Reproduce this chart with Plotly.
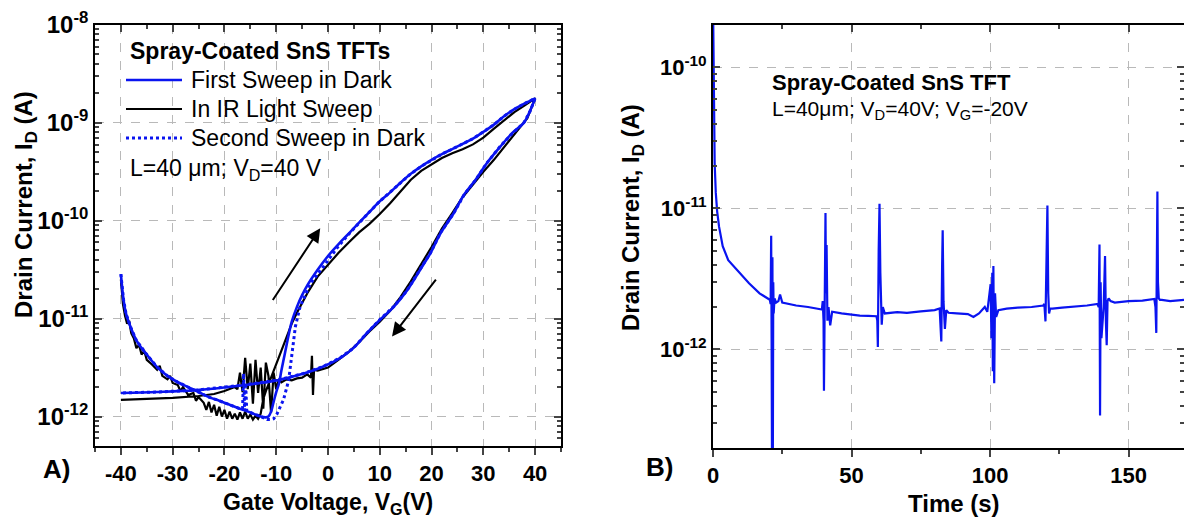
import plotly.graph_objects as go
import math

W, H = 1184, 525
FONT = "Liberation Sans, Arial, sans-serif"

# ---------------- Panel A data (Gate voltage V, drain current A) ----------------
fwd1_v = [-40, -39.5, -39, -38, -37, -36, -35, -33, -31, -29, -27, -25, -23, -21, -19, -17, -15, -13, -12,
          -11.5, -11, -10.5, -10, -9.5, -9, -8.5, -8, -7.5, -7, -6, -5, -4, -2, 0, 2, 4, 6, 8, 10, 12, 14,
          16, 18, 20, 22, 24, 26, 28, 30, 32, 34, 36, 38, 40]
fwd1_i = [2.85e-11, 1.58e-11, 1.12e-11, 7.9e-12, 6.0e-12, 5.0e-12, 4.3e-12, 3.2e-12, 2.6e-12, 2.24e-12,
          2.0e-12, 1.78e-12, 1.58e-12, 1.45e-12, 1.32e-12, 1.2e-12, 1.1e-12, 1.0e-12, 0.98e-12,
          1.0e-12, 1.12e-12, 1.41e-12, 1.78e-12, 2.14e-12, 2.95e-12, 3.98e-12, 5.37e-12, 7.24e-12,
          9.3e-12, 1.32e-11, 1.74e-11, 2.19e-11, 3.16e-11, 4.37e-11, 5.75e-11, 7.4e-11, 9.55e-11,
          1.23e-10, 1.58e-10, 1.95e-10, 2.45e-10, 3.02e-10, 3.6e-10, 4.2e-10, 4.8e-10, 5.4e-10,
          6.1e-10, 6.9e-10, 8.1e-10, 9.55e-10, 1.17e-9, 1.38e-9, 1.58e-9, 1.78e-9]
rev1_v = [40, 39, 37.8, 35.6, 33.3, 30.7, 28.5, 26.3, 24.3, 21.7, 19.8, 17.8, 15.3, 12.7, 10.1, 7.5, 4.9,
          2.4, -0.9, -4.7, -9.9, -16.3, -25.4, -33, -40]
rev1_i = [1.78e-9, 1.32e-9, 1.0e-9, 7.9e-10, 5.75e-10, 3.9e-10, 2.63e-10, 1.86e-10, 1.2e-10, 7.4e-11,
          4.68e-11, 3.16e-11, 1.95e-11, 1.32e-11, 9.8e-12, 7.1e-12, 5.0e-12, 3.98e-12, 3.24e-12,
          2.75e-12, 2.34e-12, 2.09e-12, 1.86e-12, 1.78e-12, 1.74e-12]

fwd2_v = [-40, -39.5, -39, -38, -37, -36, -35, -33, -31, -29, -27, -25, -23, -21, -19, -17, -16.5, -16.3,
          -16.1, -15.9, -15.7, -15, -13, -11.8, -11, -10.5, -9.9, -8.6, -7.6, -7.0, -6.3, -5.4, -3.4, -0.9,
          2, 4, 6, 8, 10, 12, 14, 16, 18, 20, 22, 24, 26, 28, 30, 32, 34, 36, 38, 40]
fwd2_i = [2.85e-11, 1.58e-11, 1.12e-11, 7.9e-12, 6.0e-12, 5.0e-12, 4.3e-12, 3.2e-12, 2.6e-12, 2.24e-12,
          2.0e-12, 1.78e-12, 1.58e-12, 1.45e-12, 1.32e-12, 1.2e-12, 1.2e-12, 2.75e-12, 1.15e-12, 2.2e-12,
          1.15e-12, 1.1e-12, 1.0e-12, 0.93e-12, 0.93e-12, 0.95e-12, 1.05e-12, 1.48e-12, 2.34e-12,
          4.47e-12, 8.3e-12, 1.32e-11, 2.29e-11, 3.39e-11, 5.5e-11, 7.3e-11, 9.55e-11, 1.23e-10,
          1.58e-10, 1.95e-10, 2.45e-10, 3.02e-10, 3.6e-10, 4.2e-10, 4.8e-10, 5.4e-10, 6.1e-10,
          6.9e-10, 8.1e-10, 9.55e-10, 1.17e-9, 1.38e-9, 1.58e-9, 1.78e-9]
rev2_v = [40, 39, 37.8, 35.6, 33.3, 30.7, 28.5, 26.3, 24.3, 21.7, 19.8, 17.8, 15.3, 12.7, 10.1, 7.5, 4.9,
          2.4, -0.9, -4.7, -9.9, -16.3, -25.4, -33, -40]
rev2_i = [1.78e-9, 1.3e-9, 1.0e-9, 7.8e-10, 5.8e-10, 3.9e-10, 2.6e-10, 1.85e-10, 1.2e-10, 7.5e-11,
          4.7e-11, 3.2e-11, 1.95e-11, 1.33e-11, 9.9e-12, 7.1e-12, 5.0e-12, 4.0e-12, 3.25e-12,
          2.75e-12, 2.35e-12, 2.1e-12, 1.86e-12, 1.78e-12, 1.74e-12]

ir_fwd_v = [-40, -39.6, -39.2, -38.8, -38.4, -38, -37.5, -37, -36.5, -36, -35.5, -35, -34, -33, -32.5, -32,
            -31, -30.5, -30, -29, -28.5, -28, -27, -26, -25.5, -25, -24, -23.5, -23, -22.5, -22, -21.5,
            -21, -20.5, -20, -19.5, -19, -18.5, -18, -17.5, -17, -16.5, -16, -15.5, -15, -14.5, -14,
            -13.5, -13, -12.5, -12, -11, -10, -9, -8, -7, -6, -5, -4, -2, 0, 2, 4, 6, 8, 10, 12, 14, 16,
            18, 20, 22, 24, 26, 28, 30, 32, 34, 36, 38, 40]
ir_fwd_i = [2.51e-11, 1.41e-11, 1.07e-11, 8.9e-12, 9.5e-12, 7.1e-12, 6.3e-12, 5.0e-12, 5.4e-12, 4.3e-12,
            4.7e-12, 3.8e-12, 3.4e-12, 3.0e-12, 3.3e-12, 2.6e-12, 2.4e-12, 2.6e-12, 2.2e-12, 2.1e-12,
            1.82e-12, 2.0e-12, 1.66e-12, 1.74e-12, 1.45e-12, 1.58e-12, 1.38e-12, 1.17e-12, 1.41e-12,
            1.1e-12, 1.32e-12, 1.02e-12, 1.26e-12, 1.0e-12, 1.17e-12, 0.95e-12, 1.12e-12, 0.95e-12,
            1.07e-12, 0.93e-12, 1.1e-12, 0.95e-12, 1.12e-12, 0.95e-12, 1.05e-12, 0.93e-12, 1.02e-12,
            0.95e-12, 1.07e-12, 1.51e-12, 1.82e-12, 2.5e-12, 3.4e-12, 4.7e-12, 6.6e-12, 8.9e-12,
            1.15e-11, 1.45e-11, 1.82e-11, 2.69e-11, 3.55e-11, 4.68e-11, 6.0e-11, 7.6e-11, 9.3e-11,
            1.17e-10, 1.51e-10, 2.0e-10, 2.63e-10, 3.24e-10, 3.8e-10, 4.37e-10, 4.9e-10, 5.37e-10,
            6.03e-10, 7.08e-10, 8.7e-10, 1.07e-9, 1.29e-9, 1.51e-9, 1.78e-9]
ir_rev_v = [40, 38.5, 36, 34, 32, 30, 28, 26, 24, 22, 20, 18, 16, 14, 12, 10, 8, 6, 4, 2, 0, -2, -2.7,
            -2.9, -3.1, -3.3, -4, -5, -6, -7, -8, -9, -9.5, -10, -10.5, -11, -11.5, -12, -12.5, -13,
            -13.5, -14, -14.5, -15, -15.5, -16, -16.5, -17, -17.5, -18, -20, -22, -25, -30, -35, -40]
ir_rev_i = [1.78e-9, 1.12e-9, 7.6e-10, 5.6e-10, 4.17e-10, 3.16e-10, 2.34e-10, 1.74e-10, 1.2e-10, 8.3e-11,
            5.4e-11, 3.55e-11, 2.4e-11, 1.66e-11, 1.2e-11, 9.3e-12, 7.4e-12, 5.75e-12, 4.57e-12,
            3.8e-12, 3.16e-12, 2.95e-12, 3.0e-12, 1.66e-12, 4.17e-12, 2.5e-12, 2.7e-12, 2.5e-12,
            2.45e-12, 2.34e-12, 2.4e-12, 2.24e-12, 2.4e-12, 1.9e-12, 2.8e-12, 1.1e-12, 2.6e-12,
            3.55e-12, 1.2e-12, 3.16e-12, 1.74e-12, 3.8e-12, 1.35e-12, 3.47e-12, 1.9e-12, 3.98e-12,
            1.78e-12, 2.8e-12, 1.9e-12, 2.0e-12, 1.82e-12, 1.7e-12, 1.62e-12, 1.55e-12, 1.51e-12, 1.48e-12]

# ---------------- Panel B data (time s, drain current A) ----------------
time_s = [0, 0.15, 0.3, 0.6, 1.0, 1.5, 2.2, 3.5, 5.5, 8, 10.2, 13, 16.8, 19, 20.5,
          20.8, 21.0, 21.15, 21.3, 21.45, 21.6, 21.75, 21.9, 22.2, 22.8, 23.6, 24.2, 25, 27, 30, 34.3, 37,
          39.3, 39.6, 39.9, 40.05, 40.3, 40.6, 40.8, 41.0, 41.3, 41.7, 42.3, 43, 46.4, 50, 53, 56, 59.0,
          59.3, 59.5, 59.8, 60.1, 60.4, 60.9, 61.3, 62, 66.5, 70, 75, 80, 81.8,
          82.1, 82.4, 82.7, 82.9, 83.2, 83.7, 84.2, 85, 88, 92, 94, 96, 98.1,
          99, 100.2, 100.5, 100.8, 101.0, 101.2, 101.5, 101.8, 102.2, 103, 106, 110, 115, 119.2,
          119.6, 120.0, 120.3, 120.7, 121.0, 121.3, 121.7, 122.5, 126, 130, 135, 138.8,
          139.2, 139.5, 139.7, 139.9, 140.2, 141.0, 141.5, 141.8, 142.1, 142.4, 142.8, 143.5, 145, 150,
          155, 159.3, 159.7, 160.0, 160.2, 160.4, 160.6, 160.9, 161.3, 162, 165, 170]
current_t = [3e-10, 1.2e-10, 4.5e-11, 2.1e-11, 1.3e-11, 9.5e-12, 7.4e-12, 5.4e-12, 4.3e-12, 3.8e-12,
             3.45e-12, 2.95e-12, 2.5e-12, 2.35e-12, 2.25e-12,
             2.1e-12, 6.4e-12, 1.2e-12, 1.5e-13, 4.5e-12, 1.5e-13, 3.0e-12, 1.8e-12, 2.3e-12, 2.15e-12,
             2.2e-12, 2.45e-12, 2.15e-12, 2.1e-12, 2.05e-12, 2.0e-12, 1.95e-12,
             1.92e-12, 2.2e-12, 1.6e-12, 5.1e-13, 3.0e-12, 9.3e-12, 2.5e-12, 5.5e-12, 1.6e-12, 2.0e-12,
             1.48e-12, 1.85e-12, 1.8e-12, 1.76e-12, 1.74e-12, 1.73e-12, 1.72e-12,
             1.6e-12, 1.04e-12, 5.0e-12, 1.08e-11, 3.5e-12, 1.5e-12, 2.0e-12, 1.8e-12, 1.84e-12,
             1.82e-12, 1.86e-12, 1.9e-12, 1.95e-12,
             1.6e-12, 1.14e-12, 4.0e-12, 7.0e-12, 2.2e-12, 1.4e-12, 1.9e-12, 1.82e-12, 1.8e-12,
             1.78e-12, 1.7e-12, 1.8e-12, 2.0e-12,
             1.85e-12, 2.9e-12, 1.2e-12, 3.5e-12, 7e-13, 3.9e-12, 5.75e-13, 2.5e-12, 1.7e-12, 1.9e-12,
             1.95e-12, 1.98e-12, 2.0e-12, 2.05e-12,
             2.1e-12, 1.58e-12, 4.0e-12, 1.05e-11, 2.5e-12, 1.8e-12, 1.95e-12, 1.95e-12, 1.98e-12,
             2.0e-12, 2.05e-12, 2.1e-12,
             2.0e-12, 5.55e-12, 3.4e-13, 3.0e-12, 1.2e-12, 2.0e-12, 4.6e-12, 1.6e-12, 1.07e-12, 2.2e-12,
             2.3e-12, 2.2e-12, 2.15e-12, 2.2e-12,
             2.22e-12, 2.28e-12, 2.0e-12, 1.31e-12, 5e-12, 1.32e-11, 3e-12, 2.3e-12, 2.25e-12, 2.25e-12,
             2.2e-12, 2.25e-12]

# tick definitions
vg_ticks = [-40, -30, -20, -10, 0, 10, 20, 30, 40]
vg_minor = [-45, -35, -25, -15, -5, 5, 15, 25, 35, 45]
id_ticks_a = [1e-12, 1e-11, 1e-10, 1e-9, 1e-8]
id_text_a = ["10<sup>-12</sup>", "10<sup>-11</sup>", "10<sup>-10</sup>", "10<sup>-9</sup>", "10<sup>-8</sup>"]
t_ticks = [0, 50, 100, 150]
t_minor = [25, 75, 125]
id_ticks_b = [1e-12, 1e-11, 1e-10]
id_text_b = ["10<sup>-12</sup>", "10<sup>-11</sup>", "10<sup>-10</sup>"]


def minor_log(lo_exp, hi_exp):
    out = []
    for e in range(lo_exp, hi_exp):
        for k in range(2, 10):
            out.append(k * 10.0 ** e)
    return out


BLUE = "#0a14f0"
BLACK = "#000000"

fig = go.Figure()
# panel A
fig.add_trace(go.Scatter(x=ir_fwd_v + ir_rev_v, y=ir_fwd_i + ir_rev_i, mode="lines",
                         line=dict(color=BLACK, width=2.2), xaxis="x", yaxis="y", showlegend=False))
fig.add_trace(go.Scatter(x=fwd1_v + rev1_v, y=fwd1_i + rev1_i, mode="lines", line_shape="spline",
                         line=dict(color=BLUE, width=2.6), xaxis="x", yaxis="y", showlegend=False))
fig.add_trace(go.Scatter(x=fwd2_v + rev2_v, y=fwd2_i + rev2_i, mode="lines",
                         line=dict(color=BLUE, width=3, dash="dot"), xaxis="x", yaxis="y", showlegend=False))
# panel B
fig.add_trace(go.Scatter(x=time_s, y=current_t, mode="lines", line=dict(color=BLUE, width=2.2),
                         xaxis="x2", yaxis="y2", showlegend=False))
# dummy traces so overlay axes get drawn
fig.add_trace(go.Scatter(x=[None], y=[None], xaxis="x3", yaxis="y", showlegend=False, hoverinfo="skip"))
fig.add_trace(go.Scatter(x=[None], y=[None], xaxis="x4", yaxis="y2", showlegend=False, hoverinfo="skip"))

GRID = dict(showgrid=True, gridcolor="#b9b9b9", griddash="dash", gridwidth=1.2)
LINE = dict(showline=True, linecolor="black", linewidth=1.8, zeroline=False, automargin=False)
TICKF_X = dict(family=FONT, size=22, color="black", weight="bold")
TICKF_Y = dict(family=FONT, size=24, color="black", weight="bold")

axA_x = [95 / W, 561 / W]
axA_y = [1 - 446 / H, 1 - 25 / H]
axB_x = [713 / W, 1.0]
axB_y = [1 - 448 / H, 1 - 25 / H]

fig.update_layout(
    width=W, height=H, margin=dict(l=0, r=0, t=0, b=0, pad=0, autoexpand=False),
    paper_bgcolor="white", plot_bgcolor="white",
    font=dict(family=FONT, color="black"),
    xaxis=dict(domain=axA_x, anchor="y", range=[-45, 45], tickmode="array", tickvals=vg_ticks,
               ticktext=[str(v) for v in vg_ticks], ticks="outside", ticklen=7, tickwidth=1.5,
               tickfont=TICKF_X, minor=dict(tickmode="array", tickvals=vg_minor, ticks="outside",
                                            ticklen=4, tickwidth=1.5, showgrid=False),
               **GRID, **LINE),
    xaxis3=dict(overlaying="x", anchor="y", side="top", range=[-45, 45], tickmode="array",
                tickvals=vg_ticks, ticks="inside", ticklen=7, tickwidth=1.5, showticklabels=False,
                minor=dict(tickmode="array", tickvals=vg_minor, ticks="inside", ticklen=4, tickwidth=1.5),
                showgrid=False, **LINE),
    yaxis=dict(domain=axA_y, anchor="x", type="log", range=[math.log10(5e-13), -8], tickmode="array",
               tickvals=id_ticks_a, ticktext=id_text_a, ticks="inside", ticklen=7, tickwidth=1.5,
               mirror="ticks", tickfont=TICKF_Y,
               minor=dict(tickmode="array", tickvals=minor_log(-13, -8), ticks="inside", ticklen=4,
                          tickwidth=1.5, showgrid=False),
               **GRID, **LINE),
    xaxis2=dict(domain=axB_x, anchor="y2", range=[0, 170], tickmode="array", tickvals=t_ticks,
                ticktext=[str(v) for v in t_ticks], ticks="outside", ticklen=7, tickwidth=1.5,
                tickfont=TICKF_X, minor=dict(tickmode="array", tickvals=t_minor, ticks="outside",
                                             ticklen=4, tickwidth=1.5, showgrid=False),
                **GRID, **LINE),
    xaxis4=dict(overlaying="x2", anchor="y2", side="top", range=[0, 170], tickmode="array",
                tickvals=t_ticks, ticks="inside", ticklen=7, tickwidth=1.5, showticklabels=False,
                minor=dict(tickmode="array", tickvals=t_minor, ticks="inside", ticklen=4, tickwidth=1.5),
                showgrid=False, **LINE),
    yaxis2=dict(domain=axB_y, anchor="x2", type="log", range=[math.log10(2e-13), math.log10(2e-10)],
                tickmode="array", tickvals=id_ticks_b, ticktext=id_text_b, ticks="inside", ticklen=7,
                tickwidth=1.5, mirror="ticks", tickfont=TICKF_X,
                minor=dict(tickmode="array", tickvals=minor_log(-13, -9), ticks="inside", ticklen=4,
                           tickwidth=1.5, showgrid=False),
                **GRID, **LINE),
)


def P(xp, yp):
    return xp / W, 1 - yp / H


ann = []


def text(xp, yp, s, size, bold=False, xanchor="left", angle=0):
    x, y = P(xp, yp)
    ann.append(dict(x=x, y=y, xref="paper", yref="paper", text=("<b>%s</b>" % s) if bold else s,
                    showarrow=False, xanchor=xanchor, yanchor="middle", textangle=angle,
                    font=dict(family=FONT, size=size, color="black")))


# panel A texts
text(128, 51, "Spray-Coated SnS TFTs", 23, bold=True)
text(189, 80, "First Sweep in Dark", 23)
text(189, 109, "In IR Light Sweep", 23)
text(189, 138, "Second Sweep in Dark", 23)
text(128, 170, "L=40 μm; V<sub>D</sub>=40 V", 23)
text(26, 205, "Drain Current, I<sub>D</sub> (A)", 24, bold=True, xanchor="center", angle=-90)
text(328, 503, "Gate Voltage, V<sub>G</sub>(V)", 23, bold=True, xanchor="center")
text(56, 469, "A)", 26, bold=True, xanchor="center")
# panel B texts
text(770, 82, "Spray-Coated SnS TFT", 22, bold=True)
text(770, 110, "L=40μm; V<sub>D</sub>=40V; V<sub>G</sub>=-20V", 21)
text(633, 218, "Drain Current, I<sub>D</sub> (A)", 24, bold=True, xanchor="center", angle=-90)
text(954, 503, "Time (s)", 24, bold=True, xanchor="center")
text(659, 467, "B)", 26, bold=True, xanchor="center")

# arrows (log axis -> log10 positions)
ann.append(dict(x=-1.5, y=-10.076, ax=-10.85, ay=-10.825, xref="x", yref="y", axref="x", ayref="y",
                showarrow=True, arrowhead=2, arrowsize=1.4, arrowwidth=2, arrowcolor="black", text=""))
ann.append(dict(x=12.36, y=-11.183, ax=21.06, ay=-10.586, xref="x", yref="y", axref="x", ayref="y",
                showarrow=True, arrowhead=2, arrowsize=1.4, arrowwidth=2, arrowcolor="black", text=""))
fig.update_layout(annotations=ann)

# legend line samples
shapes = []
for yp, col, dash, wd in [(80, BLUE, "solid", 2.6), (109, BLACK, "solid", 2.2), (138, BLUE, "dot", 3)]:
    x0, y0 = P(126, yp)
    x1, _ = P(182, yp)
    shapes.append(dict(type="line", xref="paper", yref="paper", x0=x0, x1=x1, y0=y0, y1=y0,
                       line=dict(color=col, width=wd, dash=dash)))
fig.update_layout(shapes=shapes)

fig.write_html("out.html")
